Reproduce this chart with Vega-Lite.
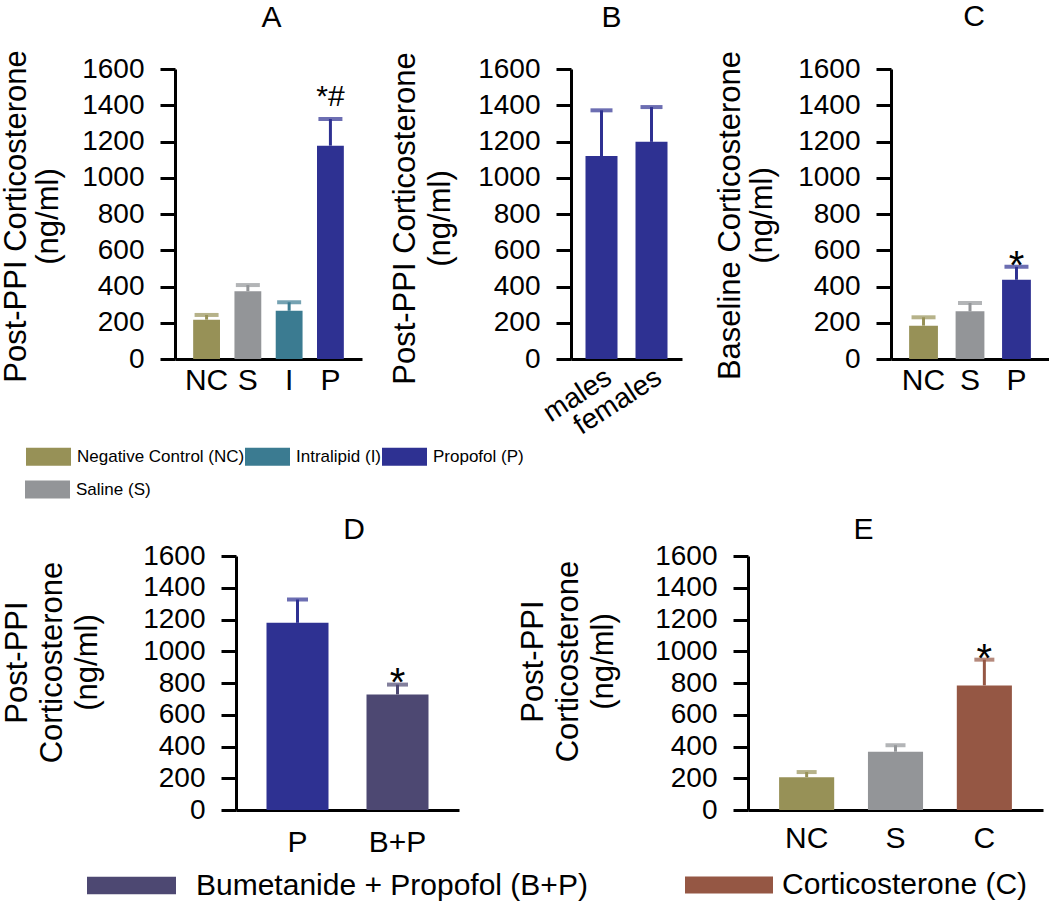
{
  "$schema": "https://vega.github.io/schema/vega-lite/v6.json",
  "autosize": {"type": "pad"},
  "padding": {"left": 0, "top": 2, "right": 0, "bottom": 0},
  "background": "white",
  "config": {
    "font": "Liberation Sans",
    "view": {"stroke": null},
    "axis": {"domainColor": "#000000", "domainWidth": 3, "tickColor": "#000000", "tickWidth": 3, "labelColor": "#000000", "titleColor": "#000000", "grid": false, "labelFont": "Liberation Sans", "titleFont": "Liberation Sans", "titleFontWeight": "normal", "labelFontWeight": "normal"},
    "axisY": {"tickSize": 15, "labelPadding": 16, "labelFontSize": 28, "titleFontSize": 31, "titleAngle": 270, "titleBaseline": "alphabetic", "titleAlign": "center", "labelOverlap": false},
    "axisX": {"ticks": false, "tickSize": 0, "labelFontSize": 30, "labelAngle": 0, "labelOverlap": false},
    "title": {"fontSize": 30, "fontWeight": "normal", "font": "Liberation Sans", "color": "#000000", "frame": "group", "baseline": "alphabetic"},
    "legend": {"labelColor": "#000000", "symbolStrokeWidth": 0, "symbolOpacity": 1, "padding": 0, "labelLimit": 500, "labelFont": "Liberation Sans"}
  },
  "datasets": {
    "A": [
      {"label": "NC", "name": "Negative Control (NC)", "value": 217, "err": 243, "sig": ""},
      {"label": "S", "name": "Saline (S)", "value": 374, "err": 408, "sig": ""},
      {"label": "I", "name": "Intralipid (I)", "value": 266, "err": 313, "sig": ""},
      {"label": "P", "name": "Propofol (P)", "value": 1177, "err": 1324, "sig": "*#"}
    ],
    "B": [
      {"label": "males", "name": "Propofol (P)", "value": 1120, "err": 1372, "sig": ""},
      {"label": "females", "name": "Propofol (P)", "value": 1198, "err": 1390, "sig": ""}
    ],
    "C": [
      {"label": "NC", "name": "Negative Control (NC)", "value": 184, "err": 230, "sig": ""},
      {"label": "S", "name": "Saline (S)", "value": 263, "err": 309, "sig": ""},
      {"label": "P", "name": "Propofol (P)", "value": 437, "err": 509, "sig": "*"}
    ],
    "D": [
      {"label": "P", "name": "Propofol (P)", "value": 1179, "err": 1326, "sig": ""},
      {"label": "B+P", "name": "Bumetanide + Propofol (B+P)", "value": 728, "err": 790, "sig": "*"}
    ],
    "E": [
      {"label": "NC", "name": "Negative Control (NC)", "value": 207, "err": 239, "sig": ""},
      {"label": "S", "name": "Saline (S)", "value": 367, "err": 408, "sig": ""},
      {"label": "C", "name": "Corticosterone (C)", "value": 785, "err": 947, "sig": "*"}
    ]
  },
  "columns": 1,
  "align": "none",
  "spacing": 16,
  "bounds": "full",
  "resolve": {"scale": {"color": "independent", "stroke": "independent", "fill": "independent"}, "legend": {"color": "independent"}},
  "concat": [
    {
      "spacing": 209,
      "bounds": "flush",
      "resolve": {"scale": {"color": "independent", "stroke": "independent", "fill": "independent"}, "legend": {"color": "independent"}},
      "hconcat": [
        {
          "width": 187, "height": 290,
          "data": {"name": "A"},
          "title": {"text": "A", "offset": 17, "dx": 3},
          "encoding": {
            "x": {"field": "label", "type": "nominal", "sort": null, "scale": {"paddingInner": 0.35, "paddingOuter": 0.44}, "axis": {"title": null, "labelPadding": 6}}
          },
          "layer": [
            {
              "mark": {"type": "bar"},
              "encoding": {
                "y": {"field": "value", "type": "quantitative", "scale": {"domain": [0, 1600], "nice": false},
                      "axis": {"values": [0, 200, 400, 600, 800, 1000, 1200, 1400, 1600], "tickCount": 10, "format": "d", "labelOverlap": false, "title": ["Post-PPI Corticosterone", "(ng/ml)"], "titleX": -150, "titleY": 147, "titleLineHeight": 32}},
                "color": {"field": "name", "type": "nominal",
                  "scale": {"domain": ["Negative Control (NC)", "Saline (S)", "Intralipid (I)", "Propofol (P)"], "range": ["#979157", "#939598", "#3b7b91", "#2e3192"]},
                  "legend": {"orient": "none", "direction": "horizontal", "legendX": -149, "legendY": 365, "title": null, "columnPadding": 0, "labelOffset": 6, "labelFontSize": 17, "symbolType": "M-1,-0.4H1V0.4H-1Z", "symbolSize": 2025,
                    "values": ["Negative Control (NC)", "Intralipid (I)", "Propofol (P)"]}}
              }
            },
            {
              "mark": {"type": "rule", "strokeWidth": 3},
              "encoding": {
                "y": {"field": "value", "type": "quantitative",
                      "axis": {"values": [0, 200, 400, 600, 800, 1000, 1200, 1400, 1600], "tickCount": 10, "format": "d", "labelOverlap": false, "title": ["Post-PPI Corticosterone", "(ng/ml)"], "titleX": -150, "titleY": 147, "titleLineHeight": 32}},
                "y2": {"field": "err"},
                "stroke": {"field": "name", "type": "nominal", "legend": null,
                  "scale": {"domain": ["Negative Control (NC)", "Saline (S)", "Intralipid (I)", "Propofol (P)"], "range": ["#979157", "#939598", "#3b7b91", "#2e3192"]}}
              }
            },
            {
              "mark": {"type": "tick", "thickness": 4, "size": 24, "orient": "horizontal"},
              "encoding": {
                "y": {"field": "err", "type": "quantitative",
                      "axis": {"values": [0, 200, 400, 600, 800, 1000, 1200, 1400, 1600], "tickCount": 10, "format": "d", "labelOverlap": false, "title": ["Post-PPI Corticosterone", "(ng/ml)"], "titleX": -150, "titleY": 147, "titleLineHeight": 32}},
                "fill": {"field": "name", "type": "nominal", "legend": null,
                  "scale": {"domain": ["Negative Control (NC)", "Saline (S)", "Intralipid (I)", "Propofol (P)"], "range": ["#979157", "#939598", "#3b7b91", "#2e3192"]}}
              }
            },
            {
              "transform": [{"filter": "datum.sig == '*#'"}],
              "mark": {"type": "text", "fontSize": 30, "baseline": "alphabetic", "align": "center", "dy": -13, "color": "#000000"},
              "encoding": {
                "y": {"field": "err", "type": "quantitative",
                      "axis": {"values": [0, 200, 400, 600, 800, 1000, 1200, 1400, 1600], "tickCount": 10, "format": "d", "labelOverlap": false, "title": ["Post-PPI Corticosterone", "(ng/ml)"], "titleX": -150, "titleY": 147, "titleLineHeight": 32}},
                "text": {"field": "sig"}}
            }
          ]
        },
        {
          "width": 111, "height": 290,
          "data": {"name": "B"},
          "title": {"text": "B", "offset": 19, "dx": -15},
          "encoding": {
            "x": {"field": "label", "type": "nominal", "sort": null, "scale": {"paddingInner": 0.36, "paddingOuter": 0.29}, "axis": {"title": null, "labelAngle": -33, "labelAlign": "right", "labelBaseline": "top", "labelFontSize": 28, "labelPadding": 4}}
          },
          "layer": [
            {
              "mark": {"type": "bar", "color": "#2e3192"},
              "encoding": {
                "y": {"field": "value", "type": "quantitative", "scale": {"domain": [0, 1600], "nice": false},
                      "axis": {"values": [0, 200, 400, 600, 800, 1000, 1200, 1400, 1600], "tickCount": 10, "format": "d", "labelOverlap": false, "title": ["Post-PPI Corticosterone", "(ng/ml)"], "titleX": -157, "titleY": 149, "titleLineHeight": 35}}
              }
            },
            {
              "mark": {"type": "rule", "strokeWidth": 3, "color": "#2e3192"},
              "encoding": {
                "y": {"field": "value", "type": "quantitative",
                      "axis": {"values": [0, 200, 400, 600, 800, 1000, 1200, 1400, 1600], "tickCount": 10, "format": "d", "labelOverlap": false, "title": ["Post-PPI Corticosterone", "(ng/ml)"], "titleX": -157, "titleY": 149, "titleLineHeight": 35}},
                "y2": {"field": "err"}}
            },
            {
              "mark": {"type": "tick", "thickness": 4, "size": 22, "orient": "horizontal", "color": "#2e3192"},
              "encoding": {
                "y": {"field": "err", "type": "quantitative",
                      "axis": {"values": [0, 200, 400, 600, 800, 1000, 1200, 1400, 1600], "tickCount": 10, "format": "d", "labelOverlap": false, "title": ["Post-PPI Corticosterone", "(ng/ml)"], "titleX": -157, "titleY": 149, "titleLineHeight": 35}}}
            }
          ]
        },
        {
          "width": 158, "height": 290,
          "data": {"name": "C"},
          "title": {"text": "C", "offset": 18, "dx": 4},
          "encoding": {
            "x": {"field": "label", "type": "nominal", "sort": null, "scale": {"paddingInner": 0.38, "paddingOuter": 0.39}, "axis": {"title": null, "labelPadding": 6}}
          },
          "layer": [
            {
              "mark": {"type": "bar"},
              "encoding": {
                "y": {"field": "value", "type": "quantitative", "scale": {"domain": [0, 1600], "nice": false},
                      "axis": {"values": [0, 200, 400, 600, 800, 1000, 1200, 1400, 1600], "tickCount": 10, "format": "d", "labelOverlap": false, "title": ["Baseline Corticosterone", "(ng/ml)"], "titleX": -152, "titleY": 146, "titleLineHeight": 32}},
                "color": {"field": "name", "type": "nominal",
                  "scale": {"domain": ["Negative Control (NC)", "Saline (S)", "Propofol (P)"], "range": ["#979157", "#939598", "#2e3192"]},
                  "legend": {"orient": "none", "legendX": -866, "legendY": 398, "title": null, "labelOffset": 6, "labelFontSize": 17, "symbolType": "M-1,-0.4H1V0.4H-1Z", "symbolSize": 2025, "values": ["Saline (S)"]}}
              }
            },
            {
              "mark": {"type": "rule", "strokeWidth": 3},
              "encoding": {
                "y": {"field": "value", "type": "quantitative",
                      "axis": {"values": [0, 200, 400, 600, 800, 1000, 1200, 1400, 1600], "tickCount": 10, "format": "d", "labelOverlap": false, "title": ["Baseline Corticosterone", "(ng/ml)"], "titleX": -152, "titleY": 146, "titleLineHeight": 32}},
                "y2": {"field": "err"},
                "stroke": {"field": "name", "type": "nominal", "legend": null,
                  "scale": {"domain": ["Negative Control (NC)", "Saline (S)", "Propofol (P)"], "range": ["#979157", "#939598", "#2e3192"]}}
              }
            },
            {
              "mark": {"type": "tick", "thickness": 4, "size": 24, "orient": "horizontal"},
              "encoding": {
                "y": {"field": "err", "type": "quantitative",
                      "axis": {"values": [0, 200, 400, 600, 800, 1000, 1200, 1400, 1600], "tickCount": 10, "format": "d", "labelOverlap": false, "title": ["Baseline Corticosterone", "(ng/ml)"], "titleX": -152, "titleY": 146, "titleLineHeight": 32}},
                "fill": {"field": "name", "type": "nominal", "legend": null,
                  "scale": {"domain": ["Negative Control (NC)", "Saline (S)", "Propofol (P)"], "range": ["#979157", "#939598", "#2e3192"]}}
              }
            },
            {
              "transform": [{"filter": "datum.sig == '*'"}],
              "mark": {"type": "text", "fontSize": 40, "baseline": "alphabetic", "align": "center", "dy": 12, "color": "#000000"},
              "encoding": {
                "y": {"field": "err", "type": "quantitative",
                      "axis": {"values": [0, 200, 400, 600, 800, 1000, 1200, 1400, 1600], "tickCount": 10, "format": "d", "labelOverlap": false, "title": ["Baseline Corticosterone", "(ng/ml)"], "titleX": -152, "titleY": 146, "titleLineHeight": 32}},
                "text": {"field": "sig"}}
            }
          ]
        }
      ]
    },
    {
      "spacing": 289,
      "bounds": "flush",
      "resolve": {"scale": {"color": "independent", "stroke": "independent", "fill": "independent"}, "legend": {"color": "independent"}},
      "hconcat": [
        {
          "width": 284, "height": 254,
          "data": {"name": "D"},
          "title": {"text": "D", "offset": -3, "dx": 37},
          "encoding": {
            "x": {"field": "label", "type": "nominal", "sort": null, "scale": {"range": [61, 284], "paddingInner": 0.38, "paddingOuter": 0.305}, "axis": {"title": null, "labelPadding": 17}}
          },
          "layer": [
            {
              "mark": {"type": "bar"},
              "encoding": {
                "y": {"field": "value", "type": "quantitative", "scale": {"domain": [0, 1600], "nice": false},
                      "axis": {"values": [0, 200, 400, 600, 800, 1000, 1200, 1400, 1600], "tickCount": 10, "offset": -61, "format": "d", "labelOverlap": false, "title": ["Post-PPI", "Corticosterone", "(ng/ml)"], "titleX": -210, "titleY": 106, "titleLineHeight": 35}},
                "color": {"field": "name", "type": "nominal",
                  "scale": {"domain": ["Propofol (P)", "Bumetanide + Propofol (B+P)"], "range": ["#2e3192", "#4d4872"]},
                  "legend": {"orient": "none", "legendX": -88, "legendY": 285, "title": null, "labelOffset": 20, "labelFontSize": 30, "symbolType": "M-1,-0.195H1V0.195H-1Z", "symbolSize": 7921, "values": ["Bumetanide + Propofol (B+P)"]}}
              }
            },
            {
              "mark": {"type": "rule", "strokeWidth": 3},
              "encoding": {
                "y": {"field": "value", "type": "quantitative",
                      "axis": {"values": [0, 200, 400, 600, 800, 1000, 1200, 1400, 1600], "tickCount": 10, "offset": -61, "format": "d", "labelOverlap": false, "title": ["Post-PPI", "Corticosterone", "(ng/ml)"], "titleX": -210, "titleY": 106, "titleLineHeight": 35}},
                "y2": {"field": "err"},
                "stroke": {"field": "name", "type": "nominal", "legend": null,
                  "scale": {"domain": ["Propofol (P)", "Bumetanide + Propofol (B+P)"], "range": ["#2e3192", "#4d4872"]}}
              }
            },
            {
              "mark": {"type": "tick", "thickness": 4, "size": 21, "orient": "horizontal"},
              "encoding": {
                "y": {"field": "err", "type": "quantitative",
                      "axis": {"values": [0, 200, 400, 600, 800, 1000, 1200, 1400, 1600], "tickCount": 10, "offset": -61, "format": "d", "labelOverlap": false, "title": ["Post-PPI", "Corticosterone", "(ng/ml)"], "titleX": -210, "titleY": 106, "titleLineHeight": 35}},
                "fill": {"field": "name", "type": "nominal", "legend": null,
                  "scale": {"domain": ["Propofol (P)", "Bumetanide + Propofol (B+P)"], "range": ["#2e3192", "#4d4872"]}}
              }
            },
            {
              "transform": [{"filter": "datum.sig == '*'"}],
              "mark": {"type": "text", "fontSize": 40, "baseline": "alphabetic", "align": "center", "dy": 11, "color": "#000000"},
              "encoding": {
                "y": {"field": "err", "type": "quantitative",
                      "axis": {"values": [0, 200, 400, 600, 800, 1000, 1200, 1400, 1600], "tickCount": 10, "offset": -61, "format": "d", "labelOverlap": false, "title": ["Post-PPI", "Corticosterone", "(ng/ml)"], "titleX": -210, "titleY": 106, "titleLineHeight": 35}},
                "text": {"field": "sig"}}
            }
          ]
        },
        {
          "width": 295, "height": 254,
          "data": {"name": "E"},
          "title": {"text": "E", "offset": -3, "dx": -32},
          "encoding": {
            "x": {"field": "label", "type": "nominal", "sort": null, "scale": {"paddingInner": 0.38, "paddingOuter": 0.35}, "axis": {"title": null, "labelPadding": 13}}
          },
          "layer": [
            {
              "mark": {"type": "bar"},
              "encoding": {
                "y": {"field": "value", "type": "quantitative", "scale": {"domain": [0, 1600], "nice": false},
                      "axis": {"values": [0, 200, 400, 600, 800, 1000, 1200, 1400, 1600], "tickCount": 10, "format": "d", "labelOverlap": false, "title": ["Post-PPI", "Corticosterone", "(ng/ml)"], "titleX": -206, "titleY": 105, "titleLineHeight": 35}},
                "color": {"field": "name", "type": "nominal",
                  "scale": {"domain": ["Negative Control (NC)", "Saline (S)", "Corticosterone (C)"], "range": ["#979157", "#939598", "#955744"]},
                  "legend": {"orient": "none", "legendX": -63, "legendY": 285, "title": null, "labelOffset": 9, "labelFontSize": 30, "symbolType": "M-1,-0.195H1V0.195H-1Z", "symbolSize": 7744, "values": ["Corticosterone (C)"]}}
              }
            },
            {
              "mark": {"type": "rule", "strokeWidth": 3},
              "encoding": {
                "y": {"field": "value", "type": "quantitative",
                      "axis": {"values": [0, 200, 400, 600, 800, 1000, 1200, 1400, 1600], "tickCount": 10, "format": "d", "labelOverlap": false, "title": ["Post-PPI", "Corticosterone", "(ng/ml)"], "titleX": -206, "titleY": 105, "titleLineHeight": 35}},
                "y2": {"field": "err"},
                "stroke": {"field": "name", "type": "nominal", "legend": null,
                  "scale": {"domain": ["Negative Control (NC)", "Saline (S)", "Corticosterone (C)"], "range": ["#979157", "#939598", "#955744"]}}
              }
            },
            {
              "mark": {"type": "tick", "thickness": 4, "size": 20, "orient": "horizontal"},
              "encoding": {
                "y": {"field": "err", "type": "quantitative",
                      "axis": {"values": [0, 200, 400, 600, 800, 1000, 1200, 1400, 1600], "tickCount": 10, "format": "d", "labelOverlap": false, "title": ["Post-PPI", "Corticosterone", "(ng/ml)"], "titleX": -206, "titleY": 105, "titleLineHeight": 35}},
                "fill": {"field": "name", "type": "nominal", "legend": null,
                  "scale": {"domain": ["Negative Control (NC)", "Saline (S)", "Corticosterone (C)"], "range": ["#979157", "#939598", "#955744"]}}
              }
            },
            {
              "transform": [{"filter": "datum.sig == '*'"}],
              "mark": {"type": "text", "fontSize": 40, "baseline": "alphabetic", "align": "center", "dy": 12, "color": "#000000"},
              "encoding": {
                "y": {"field": "err", "type": "quantitative",
                      "axis": {"values": [0, 200, 400, 600, 800, 1000, 1200, 1400, 1600], "tickCount": 10, "format": "d", "labelOverlap": false, "title": ["Post-PPI", "Corticosterone", "(ng/ml)"], "titleX": -206, "titleY": 105, "titleLineHeight": 35}},
                "text": {"field": "sig"}}
            }
          ]
        }
      ]
    }
  ]
}
